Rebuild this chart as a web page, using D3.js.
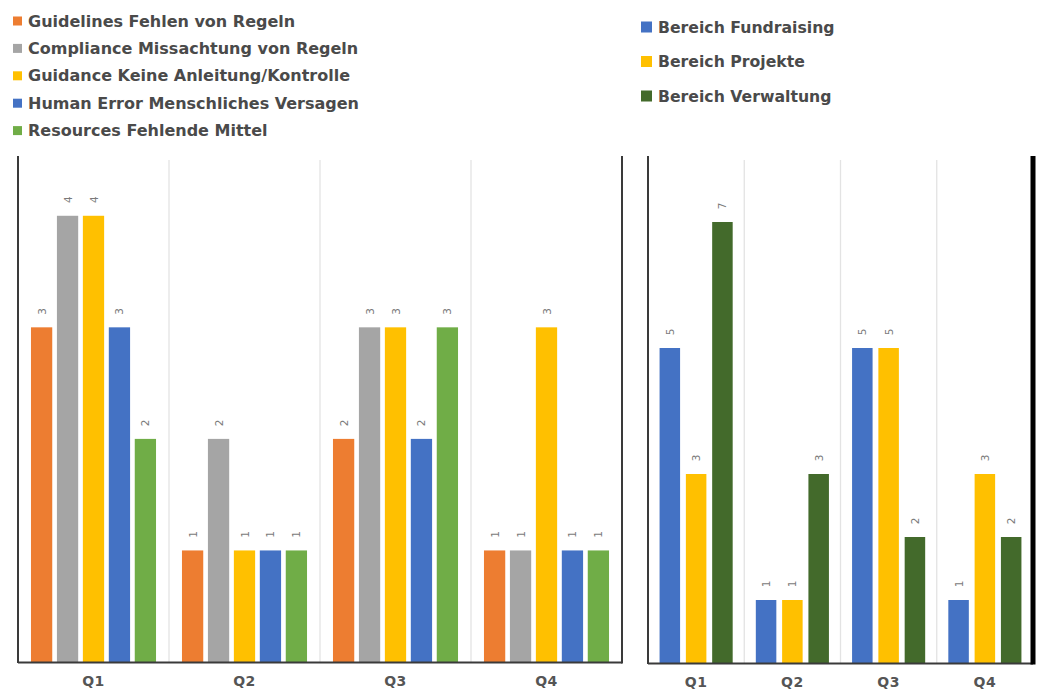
<!DOCTYPE html>
<html>
<head>
<meta charset="utf-8">
<script src="https://cdn.jsdelivr.net/npm/d3@7"></script>
<style>
  body { margin: 0; background: #fff; }
  svg { display: block; font-family: "DejaVu Sans", sans-serif; }
</style>
</head>
<body>
<svg id="chart" width="1037" height="692"></svg>
<script>
// quarters shared by both panels
const quarters = ["Q1", "Q2", "Q3", "Q4"];

// left panel: causes
const causeNames = [
  "Guidelines Fehlen von Regeln",
  "Compliance Missachtung von Regeln",
  "Guidance Keine Anleitung/Kontrolle",
  "Human Error Menschliches Versagen",
  "Resources Fehlende Mittel"
];
const causeColors = ["#ED7D31", "#A5A5A5", "#FFC000", "#4472C4", "#70AD47"];
const guidelines = [3, 1, 2, 1];
const compliance = [4, 2, 3, 1];
const guidance   = [4, 1, 3, 3];
const humanError = [3, 1, 2, 1];
const resources  = [2, 1, 3, 1];

// right panel: departments
const deptNames = ["Bereich Fundraising", "Bereich Projekte", "Bereich Verwaltung"];
const deptColors = ["#4472C4", "#FFC000", "#436A2B"];
const fundraising = [5, 1, 5, 1];
const projekte    = [3, 1, 5, 3];
const verwaltung  = [7, 3, 2, 2];

const causeSeries = [guidelines, compliance, guidance, humanError, resources];
const deptSeries = [fundraising, projekte, verwaltung];

const svg = d3.select("#chart");

function drawPanel(opt) {
  const g = svg.append("g");
  const x0 = d3.scaleBand().domain(quarters).range([opt.left, opt.right]);
  const x1 = d3.scaleBand().domain(d3.range(opt.series.length))
      .range([0, x0.bandwidth()]).paddingInner(opt.pi).paddingOuter(opt.po);
  const y = d3.scaleLinear().domain(opt.domain).range([opt.base, opt.top]);

  // light separators between quarters
  g.selectAll("line.grid").data(quarters.slice(1)).join("line")
    .attr("class", "grid")
    .attr("x1", d => x0(d)).attr("x2", d => x0(d))
    .attr("y1", opt.gridTop).attr("y2", opt.base)
    .attr("stroke", "#e3e3e3").attr("stroke-width", 1.3);

  const rows = [];
  quarters.forEach((q, qi) => {
    opt.series.forEach((s, si) => rows.push({q: q, si: si, v: s[qi]}));
  });

  g.selectAll("rect").data(rows).join("rect")
    .attr("x", d => x0(d.q) + x1(d.si))
    .attr("width", x1.bandwidth())
    .attr("y", d => y(d.v))
    .attr("height", d => opt.base - y(d.v))
    .attr("fill", d => opt.colors[d.si]);

  g.selectAll("text.val").data(rows).join("text")
    .attr("class", "val")
    .attr("transform", d => `translate(${x0(d.q) + x1(d.si) + x1.bandwidth() / 2},${y(d.v) - 16}) rotate(-90)`)
    .attr("text-anchor", "middle")
    .attr("dominant-baseline", "central")
    .attr("font-size", 10.5)
    .attr("fill", "#7a7a7a")
    .text(d => d.v);

  // frame
  g.append("line").attr("x1", opt.left).attr("x2", opt.left)
    .attr("y1", opt.frameTop).attr("y2", opt.base + 1)
    .attr("stroke", "#3a3a3a").attr("stroke-width", 2);
  g.append("line").attr("x1", opt.left).attr("x2", opt.right)
    .attr("y1", opt.base + 0.5).attr("y2", opt.base + 0.5)
    .attr("stroke", "#3a3a3a").attr("stroke-width", 2);
  g.append("line").attr("x1", opt.right).attr("x2", opt.right)
    .attr("y1", opt.frameTop).attr("y2", opt.base + 1.5)
    .attr("stroke", opt.rightColor).attr("stroke-width", opt.rightWidth);

  const xAxis = d3.axisBottom(x0).tickSize(0).tickPadding(0);
  const ax = g.append("g").attr("transform", `translate(0,${opt.base + 14})`).call(xAxis);
  ax.select(".domain").remove();
  ax.selectAll("text")
    .attr("font-size", 14).attr("font-weight", 700)
    .attr("font-family", "DejaVu Sans, sans-serif")
    .attr("letter-spacing", 0.5)
    .attr("fill", "#555");
}

drawPanel({
  series: causeSeries, colors: causeColors,
  left: 18, right: 622, base: 662, top: 160, gridTop: 160, frameTop: 156,
  domain: [0, 4.5], pi: 0.18, po: 0.5, rightColor: "#3a3a3a", rightWidth: 2
});

drawPanel({
  series: deptSeries, colors: deptColors,
  left: 648, right: 1033, base: 663, top: 159, gridTop: 160, frameTop: 156,
  domain: [0, 8], pi: 0.22, po: 0.44, rightColor: "#000", rightWidth: 5
});

// legends
function legend(names, colors, x, y0, step, sw, fs) {
  const lg = svg.append("g");
  const item = lg.selectAll("g").data(names).join("g")
    .attr("transform", (d, i) => `translate(${x},${y0 + i * step})`);
  item.append("rect").attr("x", 0).attr("y", -sw / 2).attr("width", sw).attr("height", sw)
    .attr("fill", (d, i) => colors[i]);
  item.append("text").attr("x", sw + 6).attr("y", 0)
    .attr("dominant-baseline", "central")
    .attr("font-size", fs).attr("font-weight", 700)
    .attr("fill", "#4a4a4a")
    .text(d => d);
}
legend(causeNames, causeColors, 13, 21, 27.4, 9, 16);
legend(deptNames, deptColors, 641, 27, 34.5, 11, 15.7);
</script>
</body>
</html>
